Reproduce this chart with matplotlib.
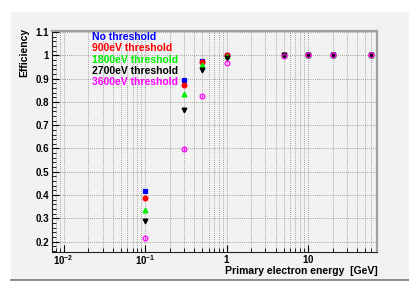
import matplotlib
matplotlib.use('Agg')
import matplotlib.pyplot as plt
from matplotlib.patches import Rectangle
from matplotlib.ticker import LogLocator, FixedLocator, MultipleLocator, NullFormatter
import numpy as np

plt.rcParams['font.family'] = ['Liberation Sans', 'DejaVu Sans']
plt.rcParams['mathtext.fontset'] = 'custom'
plt.rcParams['mathtext.bf'] = 'Liberation Sans:bold'
plt.rcParams['mathtext.rm'] = 'Liberation Sans'

energy = [0.1, 0.3, 0.5, 1, 5, 10, 20, 60]
labels = ['No threshold', '900eV threshold', '1800eV threshold',
          '2700eV threshold', '3600eV threshold']
eff_no = [0.418, 0.894, 0.975, 1.000, 1.000, 1.000, 1.000, 1.000]
eff_900 = [0.389, 0.873, 0.970, 0.999, 1.000, 1.000, 1.000, 1.000]
eff_1800 = [0.336, 0.833, 0.958, 0.997, 1.000, 1.000, 1.000, 1.000]
eff_2700 = [0.289, 0.765, 0.935, 0.990, 0.999, 0.999, 0.999, 0.999]
eff_3600 = [0.217, 0.599, 0.825, 0.968, 0.998, 0.999, 0.999, 0.999]
err = [0.005, 0.008, 0.006, 0.003, 0.002, 0.002, 0.002, 0.002]

series = [eff_no, eff_900, eff_1800, eff_2700, eff_3600]
colors = ['#0000ff', '#ff0000', '#00ee00', '#000000', '#ff00ff']
markers = ['s', 'o', '^', 'v', 'o']
filled = [True, True, True, True, False]

W, H = 409, 282
fig = plt.figure(figsize=(W / 100, H / 100), dpi=100)
fig.patch.set_facecolor('white')
# ROOT-like canvas panel
fig.patches.append(Rectangle((11 / W, 1 - 280 / H), 1 - 11 / W, (280 - 12) / H,
                             transform=fig.transFigure, facecolor='#f2f2f2',
                             edgecolor='none', zorder=-5))
fig.lines.append(plt.Line2D([11 / W, 1], [1 - 280 / H, 1 - 280 / H],
                            transform=fig.transFigure, color='#777777', lw=1.2))

ax = fig.add_axes([52 / W, 1 - 252 / H, (377 - 52) / W, (252 - 31) / H])
ax.set_facecolor('#f2f2f2')

for ys, c, m, f in zip(series, colors, markers, filled):
    ax.errorbar(energy, ys, yerr=err, fmt=m, color=c, ms=3.4,
                mfc=c if f else 'none', mec=c, mew=0.9, elinewidth=0.9,
                capsize=0, zorder=3)

ax.set_xscale('log')
ax.set_xlim(0.00718, 70.3)
ax.set_ylim(0.156, 1.104)

ax.xaxis.set_major_locator(FixedLocator([0.01, 0.1, 1, 10]))
ax.xaxis.set_minor_locator(LogLocator(base=10, subs=np.arange(2, 10)))
ax.xaxis.set_minor_formatter(NullFormatter())
ax.set_xticklabels([r'$\mathbf{10^{-2}}$', r'$\mathbf{10^{-1}}$',
                    r'$\mathbf{1}$', r'$\mathbf{10}$'])
ax.yaxis.set_minor_locator(MultipleLocator(0.02))
ax.set_yticks(np.arange(0.2, 1.15, 0.1))
ax.set_yticklabels(['0.2', '0.3', '0.4', '0.5', '0.6', '0.7', '0.8', '0.9', '1', '1.1'])

ax.tick_params(which='both', direction='in', colors='black', labelsize=7)
ax.tick_params(which='major', length=5, width=0.8)
ax.tick_params(which='minor', length=3, width=0.6)
ax.tick_params(axis='y', pad=2)
ax.tick_params(axis='x', pad=1)
for lab in ax.get_yticklabels():
    lab.set_fontweight('bold')

ax.grid(True, which='major', axis='y', color='#888888', lw=0.6, ls=(0, (1, 1.5)))
ax.grid(True, which='both', axis='x', color='#888888', lw=0.6, ls=(0, (1, 1.5)))
ax.set_axisbelow(True)

for s in ['left', 'bottom']:
    ax.spines[s].set_color('#222222')
    ax.spines[s].set_linewidth(0.8)
for s in ['top', 'right']:
    ax.spines[s].set_color('#a0a0a0')
    ax.spines[s].set_linewidth(1.6)

fig.text(378 / W, 1 - 271 / H, 'Primary electron energy  [GeV]', ha='right',
         va='center', fontsize=7.5, fontweight='bold')
fig.text(24 / W, 1 - 28 / H, 'Efficiency', rotation=90, ha='center', va='top',
         fontsize=7.5, fontweight='bold')

legend_y = [37, 48, 60, 71, 82]
for lab, c, yy in zip(labels, colors, legend_y):
    fig.text(92 / W, 1 - yy / H, lab, color=c, ha='left', va='center',
             fontsize=7.5, fontweight='bold')

fig.savefig('out.png', dpi=100, facecolor='white')
